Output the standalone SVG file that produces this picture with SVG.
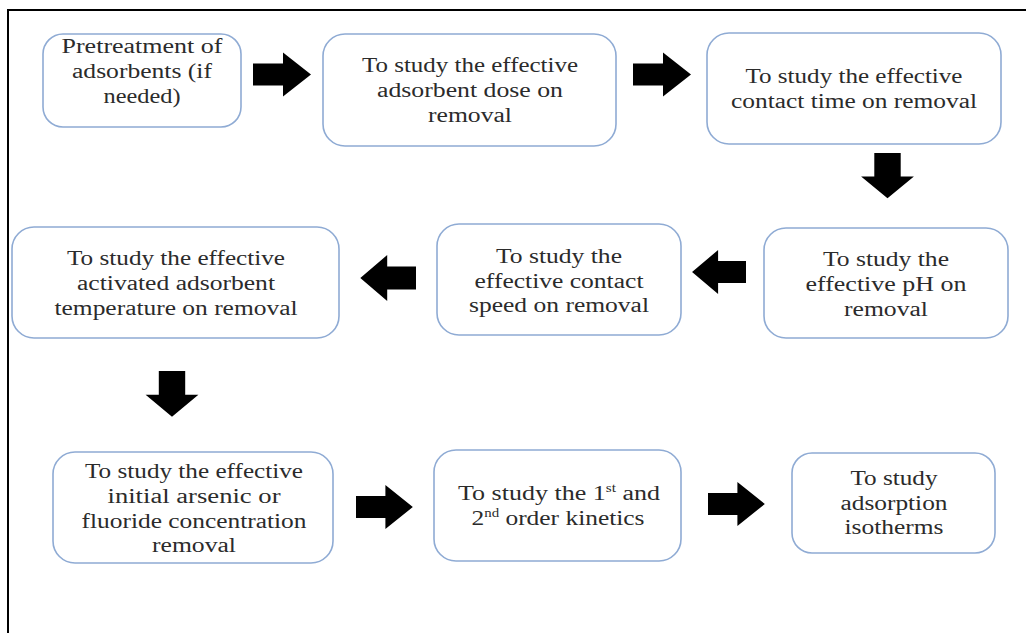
<svg xmlns="http://www.w3.org/2000/svg" width="1026" height="633" viewBox="0 0 1026 633">
  <style>
    .box { fill: #ffffff; stroke: #8fabd4; stroke-width: 1.6; }
    .lbl { font-family: 'Liberation Serif', 'Times New Roman', serif; font-size: 20.5px; fill: #2b2b2b; text-anchor: middle; }
    .sup { font-size: 12px; }
    .arrow { fill: #000000; }
    .frame { fill: none; stroke: #000000; stroke-width: 2; }
  </style>
  <defs>
    <!-- block arrow pointing right, origin at the shaft's left end, centred vertically -->
    <path id="blockArrow" d="M0,-11 L30,-11 L30,-22 L58,0 L30,22 L30,11 L0,11 Z"/>
  </defs>

  <rect width="1026" height="633" fill="#ffffff"/>
  <!-- page frame: top and left edges -->
  <path class="frame" d="M8,633 L8,10 L1026,10"/>

  <g id="pretreatment">
    <rect class="box" x="43" y="34" width="198" height="93" rx="20"/>
    <text class="lbl" x="142" y="53" textLength="161" lengthAdjust="spacingAndGlyphs">Pretreatment of</text>
    <text class="lbl" x="142" y="78" textLength="140" lengthAdjust="spacingAndGlyphs">adsorbents (if</text>
    <text class="lbl" x="142" y="103" textLength="77" lengthAdjust="spacingAndGlyphs">needed)</text>
  </g>

  <g id="dose">
    <rect class="box" x="323" y="34" width="293" height="112" rx="22"/>
    <text class="lbl" x="470" y="72" textLength="216" lengthAdjust="spacingAndGlyphs">To study the effective</text>
    <text class="lbl" x="470" y="97" textLength="186" lengthAdjust="spacingAndGlyphs">adsorbent dose on</text>
    <text class="lbl" x="470" y="122" textLength="84" lengthAdjust="spacingAndGlyphs">removal</text>
  </g>

  <g id="contact-time">
    <rect class="box" x="707" y="33" width="294" height="111" rx="22"/>
    <text class="lbl" x="854" y="83" textLength="217" lengthAdjust="spacingAndGlyphs">To study the effective</text>
    <text class="lbl" x="854" y="108" textLength="246" lengthAdjust="spacingAndGlyphs">contact time on removal</text>
  </g>

  <g id="ph">
    <rect class="box" x="764" y="228" width="244" height="110" rx="22"/>
    <text class="lbl" x="886" y="266" textLength="126" lengthAdjust="spacingAndGlyphs">To study the</text>
    <text class="lbl" x="886" y="291" textLength="161" lengthAdjust="spacingAndGlyphs">effective  pH on</text>
    <text class="lbl" x="886" y="316" textLength="84" lengthAdjust="spacingAndGlyphs">removal</text>
  </g>

  <g id="contact-speed">
    <rect class="box" x="437" y="224" width="244" height="111" rx="22"/>
    <text class="lbl" x="559" y="263" textLength="126" lengthAdjust="spacingAndGlyphs">To study the</text>
    <text class="lbl" x="559" y="288" textLength="169" lengthAdjust="spacingAndGlyphs">effective  contact</text>
    <text class="lbl" x="559" y="312" textLength="180" lengthAdjust="spacingAndGlyphs">speed on removal</text>
  </g>

  <g id="temperature">
    <rect class="box" x="12" y="227" width="327" height="111" rx="22"/>
    <text class="lbl" x="176" y="265" textLength="218" lengthAdjust="spacingAndGlyphs">To study the effective</text>
    <text class="lbl" x="176" y="290" textLength="198" lengthAdjust="spacingAndGlyphs">activated  adsorbent</text>
    <text class="lbl" x="176" y="315" textLength="243" lengthAdjust="spacingAndGlyphs">temperature on removal</text>
  </g>

  <g id="initial-concentration">
    <rect class="box" x="53" y="452" width="280" height="111" rx="22"/>
    <text class="lbl" x="194" y="478" textLength="218" lengthAdjust="spacingAndGlyphs">To study the effective</text>
    <text class="lbl" x="194" y="503" textLength="173" lengthAdjust="spacingAndGlyphs">initial  arsenic or</text>
    <text class="lbl" x="194" y="528" textLength="225" lengthAdjust="spacingAndGlyphs">fluoride concentration</text>
    <text class="lbl" x="194" y="552" textLength="84" lengthAdjust="spacingAndGlyphs">removal</text>
  </g>

  <g id="kinetics">
    <rect class="box" x="434" y="450" width="247" height="111" rx="22"/>
    <text class="lbl" x="559" y="500" textLength="202" lengthAdjust="spacingAndGlyphs">To study the 1<tspan class="sup" dy="-8">st</tspan><tspan dy="8"> and</tspan></text>
    <text class="lbl" x="558" y="525" textLength="173" lengthAdjust="spacingAndGlyphs">2<tspan class="sup" dy="-8">nd</tspan><tspan dy="8"> order kinetics</tspan></text>
  </g>

  <g id="isotherms">
    <rect class="box" x="792" y="453" width="203" height="100" rx="20"/>
    <text class="lbl" x="894" y="485" textLength="87" lengthAdjust="spacingAndGlyphs">To study</text>
    <text class="lbl" x="894" y="510" textLength="107" lengthAdjust="spacingAndGlyphs">adsorption</text>
    <text class="lbl" x="894" y="534" textLength="99" lengthAdjust="spacingAndGlyphs">isotherms</text>
  </g>

  <g id="connectors" class="arrow">
    <use href="#blockArrow" transform="translate(253,74.5)"/>
    <use href="#blockArrow" transform="translate(633,74.5)"/>
    <use href="#blockArrow" transform="translate(887.5,153) rotate(90) scale(0.78,1.2)"/>
    <use href="#blockArrow" transform="translate(746,272) rotate(180) scale(0.93,1)"/>
    <use href="#blockArrow" transform="translate(416,278) rotate(180) scale(0.96,1.05)"/>
    <use href="#blockArrow" transform="translate(172,371) rotate(90) scale(0.79,1.2)"/>
    <use href="#blockArrow" transform="translate(356,507) scale(0.98,1)"/>
    <use href="#blockArrow" transform="translate(708,504) scale(0.98,1)"/>
  </g>
</svg>
